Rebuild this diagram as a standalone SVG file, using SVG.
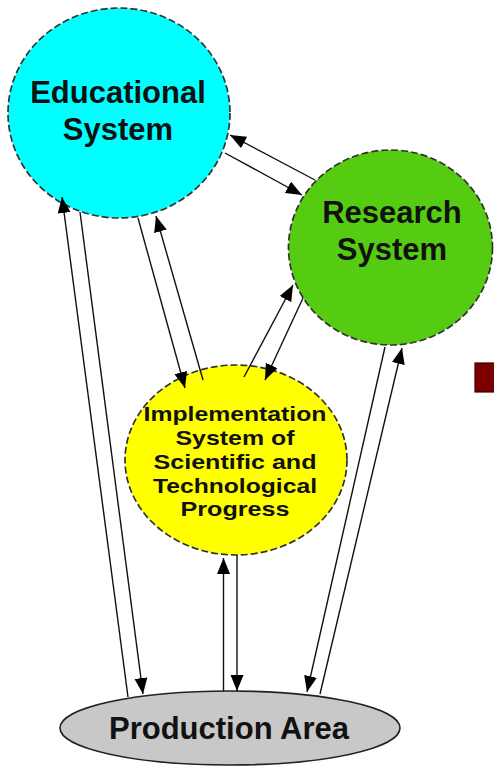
<svg xmlns="http://www.w3.org/2000/svg" width="494" height="766" viewBox="0 0 494 766">
<style>
.node{stroke:#333;stroke-width:1.7;stroke-dasharray:7,3}
.lbl{font-family:"Liberation Sans",Arial,sans-serif;font-weight:bold;fill:#111;text-anchor:middle}
.big{font-size:31px}
.small{font-size:21px}
.edge{stroke:#111;stroke-width:1.4;fill:none;marker-end:url(#ah)}
</style>
<defs>
<marker id="ah" markerUnits="userSpaceOnUse" markerWidth="18" markerHeight="14" refX="16" refY="6.5" orient="auto">
<path d="M0,0 L16,6.5 L0,13 z" fill="#000"/>
</marker>
</defs>
<rect width="494" height="766" fill="#fff"/>
<g id="educational">
<ellipse class="node" cx="119" cy="113" rx="111" ry="105" fill="#00ffff"/>
<text class="lbl big" x="118" y="103">Educational</text>
<text class="lbl big" x="118" y="140">System</text>
</g>
<g id="research">
<ellipse class="node" cx="390.5" cy="247.5" rx="102" ry="97.5" fill="#55cc11"/>
<text class="lbl big" x="392" y="223">Research</text>
<text class="lbl big" x="392" y="260">System</text>
</g>
<g id="implementation">
<ellipse class="node" cx="236" cy="460" rx="111" ry="95" fill="#ffff00"/>
<text class="lbl small" x="235" y="421" textLength="183" lengthAdjust="spacingAndGlyphs">Implementation</text>
<text class="lbl small" x="235" y="445" textLength="119" lengthAdjust="spacingAndGlyphs">System of</text>
<text class="lbl small" x="235" y="469" textLength="163" lengthAdjust="spacingAndGlyphs">Scientific and</text>
<text class="lbl small" x="235" y="493" textLength="164" lengthAdjust="spacingAndGlyphs">Technological</text>
<text class="lbl small" x="235" y="516" textLength="109" lengthAdjust="spacingAndGlyphs">Progress</text>
</g>
<g id="production">
<ellipse cx="230" cy="728" rx="170" ry="37" fill="#c8c8c8" stroke="#222" stroke-width="1.6"/>
<text class="lbl big" x="229" y="739">Production Area</text>
</g>
<rect x="475" y="363" width="25" height="29" fill="#7d0000" stroke="#3a0000" stroke-width="1.2"/>
<g id="connectors">
<line class="edge" x1="315" y1="180" x2="230" y2="135"/>
<line class="edge" x1="225" y1="153" x2="302" y2="195"/>
<line class="edge" x1="138" y1="218" x2="185" y2="388"/>
<line class="edge" x1="203" y1="380" x2="156" y2="216"/>
<line class="edge" x1="244" y1="377" x2="293" y2="285"/>
<line class="edge" x1="303" y1="298" x2="265" y2="380"/>
<line class="edge" x1="128" y1="697" x2="62" y2="197"/>
<line class="edge" x1="80" y1="212" x2="143" y2="694"/>
<line class="edge" x1="223.5" y1="691" x2="223.5" y2="558"/>
<line class="edge" x1="237" y1="555" x2="237" y2="691"/>
<line class="edge" x1="385" y1="347" x2="307" y2="692"/>
<line class="edge" x1="320" y1="694" x2="402" y2="348"/>
</g>
</svg>
